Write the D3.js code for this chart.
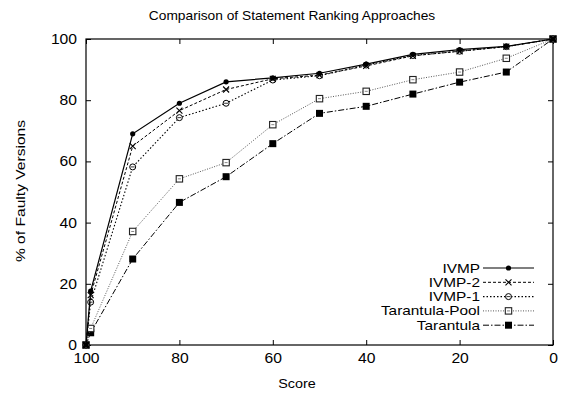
<!DOCTYPE html>
<html><head><meta charset="utf-8">
<script src="https://cdn.jsdelivr.net/npm/d3@7"></script>
<style>body{margin:0;background:#fff}svg{display:block}text{font-family:"Liberation Sans",Arial,sans-serif;fill:#000}</style>
</head><body><svg id="c" width="562" height="394"></svg>
<script>
const scores = [100, 99, 90, 80, 70, 60, 50, 40, 30, 20, 10, 0];
const ivmp = [0, 17.6, 69, 79, 86, 87.3, 88.8, 91.8, 95, 96.5, 97.6, 100];
const ivmp2 = [0, 16.3, 65, 76.6, 83.5, 87, 88.2, 91.2, 94.5, 96, 97.5, 100];
const ivmp1 = [0, 14, 58.2, 74.3, 79, 86.6, 88, 91.5, 94.6, 96, 97.5, 100];
const tarPool = [0, 5.4, 37.1, 54.3, 59.6, 72, 80.5, 82.9, 86.7, 89.2, 93.7, 100];
const tar = [0, 4, 28.1, 46.6, 55, 65.8, 75.7, 78, 82, 85.9, 89.2, 100];
const xTicks = [100, 80, 60, 40, 20, 0];
const yTicks = [0, 20, 40, 60, 80, 100];
const seriesNames = ["IVMP", "IVMP-2", "IVMP-1", "Tarantula-Pool", "Tarantula"];

const series = [
  {name: seriesNames[0], v: ivmp, dash: null, color: "#000", w: 1.2, m: "dot"},
  {name: seriesNames[1], v: ivmp2, dash: "3,2", color: "#000", w: 1, m: "x"},
  {name: seriesNames[2], v: ivmp1, dash: "1.5,2", color: "#000", w: 1.1, m: "circ"},
  {name: seriesNames[3], v: tarPool, dash: "1,1.5", color: "#444", w: 0.9, m: "sq"},
  {name: seriesNames[4], v: tar, dash: "6,2,1.5,2", color: "#000", w: 1, m: "fsq"}
];

const svg = d3.select("#c");
const L = 86, R = 553, T = 39, B = 345;
const x = d3.scaleLinear().domain([100, 0]).range([L, R]);
const y = d3.scaleLinear().domain([0, 100]).range([B, T]);

const tl = 5;
const tickFont = 14, tickStretch = 1.12;
svg.append("g").attr("transform", `translate(0,${B})`)
  .call(d3.axisBottom(x).tickValues(xTicks).tickSizeInner(-tl).tickSizeOuter(0).tickPadding(8))
  .call(g => { g.select(".domain").remove();
    g.selectAll("text").attr("font-size", tickFont).attr("dy", "0.71em").attr("transform", `scale(${tickStretch},1)`); });
svg.append("g").attr("transform", `translate(0,${T})`)
  .call(d3.axisTop(x).tickValues(xTicks).tickSizeInner(-tl).tickSizeOuter(0).tickFormat(""))
  .call(g => g.select(".domain").remove());
svg.append("g").attr("transform", `translate(${L},0)`)
  .call(d3.axisLeft(y).tickValues(yTicks).tickSizeInner(-tl).tickSizeOuter(0).tickPadding(8))
  .call(g => { g.select(".domain").remove();
    g.selectAll("text").attr("font-size", tickFont).attr("transform", `scale(${tickStretch},1)`); });
svg.append("g").attr("transform", `translate(${R},0)`)
  .call(d3.axisRight(y).tickValues(yTicks).tickSizeInner(-tl).tickSizeOuter(0).tickFormat(""))
  .call(g => g.select(".domain").remove());
svg.selectAll(".tick line").attr("stroke", "#000");

svg.append("rect").attr("x", L).attr("y", T).attr("width", R - L).attr("height", B - T)
  .attr("fill", "none").attr("stroke", "#000").attr("stroke-width", 1.2);

// titles
svg.append("text").attr("transform", "translate(292,20) scale(1.1,1)").attr("text-anchor", "middle").attr("font-size", 12.5)
  .text("Comparison of Statement Ranking Approaches");
svg.append("text").attr("transform", "translate(297,388) scale(1.15,1)").attr("text-anchor", "middle").attr("font-size", 12.5).text("Score");
svg.append("text").attr("transform", "translate(25,191) rotate(-90) scale(1.25,1)").attr("text-anchor", "middle")
  .attr("font-size", 12.5).text("% of Faulty Versions");

function marker(g, type, cx, cy, color) {
  if (type === "dot") g.append("circle").attr("cx", cx).attr("cy", cy).attr("r", 2.6).attr("fill", color);
  else if (type === "x") {
    g.append("path").attr("d", `M${cx-3},${cy-3}L${cx+3},${cy+3}M${cx-3},${cy+3}L${cx+3},${cy-3}`)
      .attr("stroke", color).attr("stroke-width", 1.1);
  } else if (type === "circ") {
    g.append("circle").attr("cx", cx).attr("cy", cy).attr("r", 3).attr("fill", "#fff").attr("stroke", color).attr("stroke-width", 1);
    g.append("path").attr("d", `M${cx-2},${cy}L${cx+2},${cy}`).attr("stroke", color).attr("stroke-width", 0.8);
  } else if (type === "sq") {
    g.append("rect").attr("x", cx - 3.2).attr("y", cy - 3.2).attr("width", 6.4).attr("height", 6.4)
      .attr("fill", "#fff").attr("stroke", "#222").attr("stroke-width", 1.1);
    g.append("path").attr("d", `M${cx-1.5},${cy}L${cx+1.5},${cy}`).attr("stroke", "#666").attr("stroke-width", 0.8);
  } else if (type === "fsq") {
    g.append("rect").attr("x", cx - 3.5).attr("y", cy - 3.5).attr("width", 7).attr("height", 7).attr("fill", color);
  }
}

const line = d3.line().x((d, i) => x(scores[i])).y(d => y(d));
[...series].reverse().forEach(s => {
  const g = svg.append("g");
  g.append("path").attr("d", line(s.v)).attr("fill", "none").attr("stroke", s.color)
    .attr("stroke-width", s.w).attr("stroke-dasharray", s.dash);
  s.v.forEach((v, i) => marker(g, s.m, x(scores[i]), y(v), "#000"));
});

// legend
const lg = svg.append("g");
series.forEach((s, i) => {
  const yy = 268 + i * 14.3;
  lg.append("text").attr("transform", `translate(480,${yy}) scale(1.22,1)`).attr("dy", "0.36em").attr("text-anchor", "end")
    .attr("font-size", 12.6).text(s.name);
  lg.append("path").attr("d", `M483,${yy}L534,${yy}`).attr("stroke", s.color).attr("stroke-width", s.w)
    .attr("stroke-dasharray", s.dash);
  marker(lg, s.m, 508.5, yy, "#000");
});
</script></body></html>
